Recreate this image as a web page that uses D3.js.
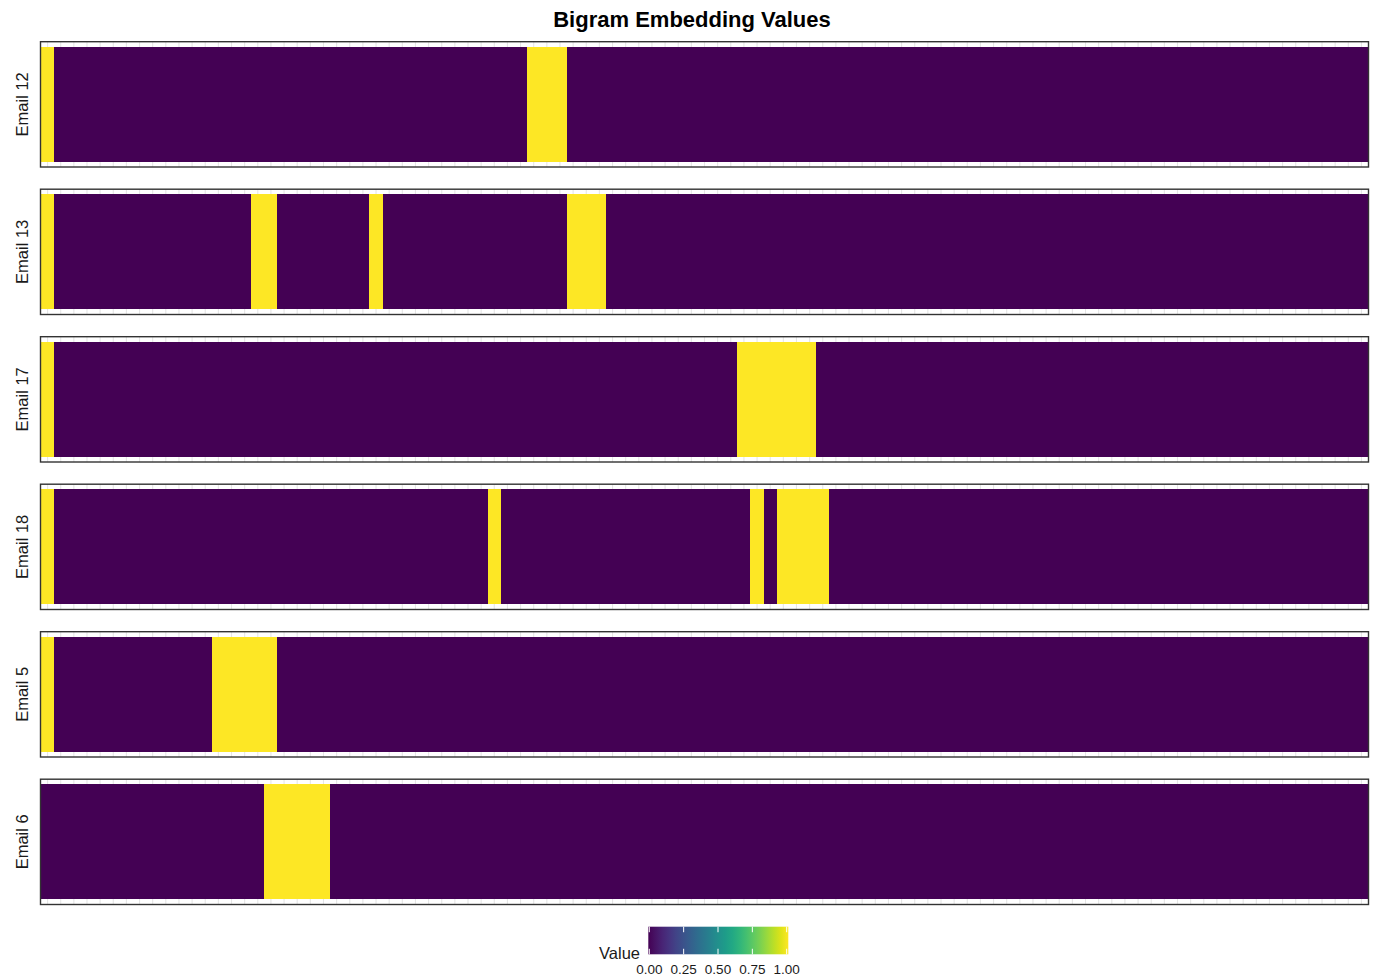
<!DOCTYPE html>
<html>
<head>
<meta charset="utf-8">
<script src="https://cdn.jsdelivr.net/npm/d3@7"></script>
<style>
  html, body { margin: 0; padding: 0; background: #ffffff; }
  svg { display: block; font-family: "Liberation Sans", Arial, Helvetica, sans-serif; }
</style>
</head>
<body>
<svg id="chart" width="1379" height="979"></svg>
<script>
// Emails shown as facets, top to bottom
const emails = ["Email 12", "Email 13", "Email 17", "Email 18", "Email 5", "Email 6"];

// Bigram indices along the x axis (101 bigrams)
const bigrams = d3.range(101);

// Embedding value of every bigram for each email (groups of ten, last entry is bigram 100)
const email12 = [1,0,0,0,0,0,0,0,0,0, 0,0,0,0,0,0,0,0,0,0, 0,0,0,0,0,0,0,0,0,0, 0,0,0,0,0,0,0,1,1,1,
                 0,0,0,0,0,0,0,0,0,0, 0,0,0,0,0,0,0,0,0,0, 0,0,0,0,0,0,0,0,0,0, 0,0,0,0,0,0,0,0,0,0,
                 0,0,0,0,0,0,0,0,0,0, 0,0,0,0,0,0,0,0,0,0, 0];
const email13 = [1,0,0,0,0,0,0,0,0,0, 0,0,0,0,0,0,1,1,0,0, 0,0,0,0,0,1,0,0,0,0, 0,0,0,0,0,0,0,0,0,0,
                 1,1,1,0,0,0,0,0,0,0, 0,0,0,0,0,0,0,0,0,0, 0,0,0,0,0,0,0,0,0,0, 0,0,0,0,0,0,0,0,0,0,
                 0,0,0,0,0,0,0,0,0,0, 0,0,0,0,0,0,0,0,0,0, 0];
const email17 = [1,0,0,0,0,0,0,0,0,0, 0,0,0,0,0,0,0,0,0,0, 0,0,0,0,0,0,0,0,0,0, 0,0,0,0,0,0,0,0,0,0,
                 0,0,0,0,0,0,0,0,0,0, 0,0,0,1,1,1,1,1,1,0, 0,0,0,0,0,0,0,0,0,0, 0,0,0,0,0,0,0,0,0,0,
                 0,0,0,0,0,0,0,0,0,0, 0,0,0,0,0,0,0,0,0,0, 0];
const email18 = [1,0,0,0,0,0,0,0,0,0, 0,0,0,0,0,0,0,0,0,0, 0,0,0,0,0,0,0,0,0,0, 0,0,0,0,1,0,0,0,0,0,
                 0,0,0,0,0,0,0,0,0,0, 0,0,0,0,1,0,1,1,1,1, 0,0,0,0,0,0,0,0,0,0, 0,0,0,0,0,0,0,0,0,0,
                 0,0,0,0,0,0,0,0,0,0, 0,0,0,0,0,0,0,0,0,0, 0];
const email5  = [1,0,0,0,0,0,0,0,0,0, 0,0,0,1,1,1,1,1,0,0, 0,0,0,0,0,0,0,0,0,0, 0,0,0,0,0,0,0,0,0,0,
                 0,0,0,0,0,0,0,0,0,0, 0,0,0,0,0,0,0,0,0,0, 0,0,0,0,0,0,0,0,0,0, 0,0,0,0,0,0,0,0,0,0,
                 0,0,0,0,0,0,0,0,0,0, 0,0,0,0,0,0,0,0,0,0, 0];
const email6  = [0,0,0,0,0,0,0,0,0,0, 0,0,0,0,0,0,0,1,1,1, 1,1,0,0,0,0,0,0,0,0, 0,0,0,0,0,0,0,0,0,0,
                 0,0,0,0,0,0,0,0,0,0, 0,0,0,0,0,0,0,0,0,0, 0,0,0,0,0,0,0,0,0,0, 0,0,0,0,0,0,0,0,0,0,
                 0,0,0,0,0,0,0,0,0,0, 0,0,0,0,0,0,0,0,0,0, 0];

// Colour-bar tick labels
const legendTicks = [0, 0.25, 0.5, 0.75, 1];

const values = [email12, email13, email17, email18, email5, email6];
const cells = [];
emails.forEach((e, i) => bigrams.forEach((b, j) => cells.push({ email: e, bigram: b, value: values[i][j] })));

const svg = d3.select("#chart");
const color = d3.scaleSequential(d3.interpolateViridis).domain([0, 1]);

const left = 40.5, right = 1368.5;
const x = d3.scaleBand().domain(bigrams).range([left + 0.5, right - 0.5]).padding(0);
const facet = d3.scaleBand().domain(emails).range([41.7, 904.5]).paddingInner(0.1505).paddingOuter(0);

// Title
svg.append("text")
  .attr("x", 692).attr("y", 26.5)
  .attr("text-anchor", "middle")
  .attr("font-size", 22).attr("font-weight", "bold").attr("fill", "#000")
  .text("Bigram Embedding Values");

emails.forEach(email => {
  const top = facet(email), h = facet.bandwidth();
  const y = d3.scaleBand().domain([email]).range([top, top + h]).paddingInner(0).paddingOuter(0.045);
  const g = svg.append("g");

  // panel background
  g.append("rect").attr("x", left).attr("y", top).attr("width", right - left).attr("height", h).attr("fill", "#fff");

  // vertical grid at each bigram
  g.selectAll("line.grid").data(bigrams).join("line")
    .attr("class", "grid")
    .attr("x1", d => x(d) + x.bandwidth() / 2).attr("x2", d => x(d) + x.bandwidth() / 2)
    .attr("y1", top).attr("y2", top + h)
    .attr("stroke", "#e6e6e6").attr("stroke-width", 1.1);

  // tiles
  g.selectAll("rect.tile").data(cells.filter(c => c.email === email)).join("rect")
    .attr("class", "tile")
    .attr("x", d => x(d.bigram)).attr("y", d => y(d.email))
    .attr("width", x.bandwidth() + 0.6).attr("height", y.bandwidth())
    .attr("fill", d => color(d.value))
    .attr("shape-rendering", "crispEdges");

  // panel border
  g.append("rect").attr("x", left).attr("y", top).attr("width", right - left).attr("height", h)
    .attr("fill", "none").attr("stroke", "#333").attr("stroke-width", 1.4);

  // facet label
  g.append("text")
    .attr("transform", `translate(27.5,${top + h / 2}) rotate(-90)`)
    .attr("text-anchor", "middle")
    .attr("font-size", 16.5).attr("fill", "#1a1a1a")
    .text(email);
});

// Colour-bar legend
const defs = svg.append("defs");
const grad = defs.append("linearGradient").attr("id", "viridisGrad").attr("x1", "0%").attr("x2", "100%");
d3.range(0, 1.0001, 0.05).forEach(t => grad.append("stop").attr("offset", `${t * 100}%`).attr("stop-color", color(t)));

const barX0 = 648.3, barX1 = 788.3, barY0 = 926.7, barY1 = 954.3;
const lx = d3.scaleLinear().domain([0, 1]).range([649.3, 786.7]);

svg.append("rect").attr("x", barX0).attr("y", barY0).attr("width", barX1 - barX0).attr("height", barY1 - barY0)
  .attr("fill", "url(#viridisGrad)");

const tickLen = (barY1 - barY0) / 5;
svg.selectAll("line.ltick-top").data(legendTicks).join("line")
  .attr("x1", d => lx(d)).attr("x2", d => lx(d)).attr("y1", barY0).attr("y2", barY0 + tickLen)
  .attr("stroke", "#fff").attr("stroke-width", 1);
svg.selectAll("line.ltick-bot").data(legendTicks).join("line")
  .attr("x1", d => lx(d)).attr("x2", d => lx(d)).attr("y1", barY1 - tickLen).attr("y2", barY1)
  .attr("stroke", "#fff").attr("stroke-width", 1);

svg.selectAll("text.ltick").data(legendTicks).join("text")
  .attr("x", d => lx(d)).attr("y", 974)
  .attr("text-anchor", "middle").attr("font-size", 13.5).attr("fill", "#1a1a1a")
  .text(d => d3.format(".2f")(d));

svg.append("text")
  .attr("x", 640).attr("y", 958.5)
  .attr("text-anchor", "end").attr("font-size", 16.5).attr("fill", "#1a1a1a")
  .text("Value");
</script>
</body>
</html>
